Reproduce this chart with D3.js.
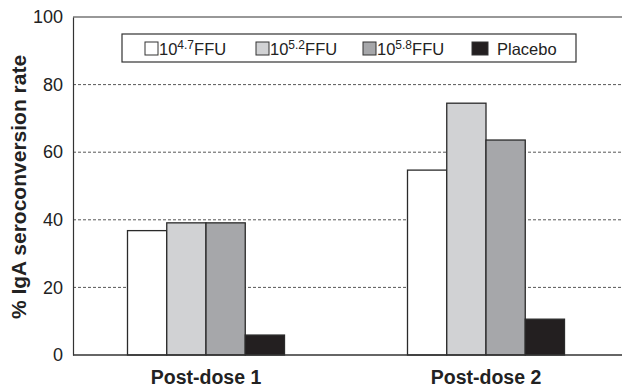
<!DOCTYPE html>
<html><head><meta charset="utf-8">
<script src="https://cdn.jsdelivr.net/npm/d3@7"></script>
<style>body{margin:0;background:#fff}svg{display:block;font-family:"Liberation Sans",Arial,sans-serif}</style>
</head><body><svg id="c" width="622" height="387"></svg>
<script>
const categories = ["Post-dose 1", "Post-dose 2"];
const seriesNames = ["10^4.7FFU", "10^5.2FFU", "10^5.8FFU", "Placebo"];
const seriesBase = ["10", "10", "10", "Placebo"];
const seriesSup = ["4.7", "5.2", "5.8", ""];
const seriesSuffix = ["FFU", "FFU", "FFU", ""];
const dose47 = [36.8, 54.7];
const dose52 = [39.1, 74.5];
const dose58 = [39.1, 63.6];
const placebo = [5.9, 10.6];
const yTicks = [0, 20, 40, 60, 80, 100];
const colors = ["#ffffff", "#d1d2d4", "#a6a7aa", "#231f20"];
const values = [dose47, dose52, dose58, placebo];

(function () {
const svg = d3.select("#c");
const pLeft = 73, pRight = 640, pTop = 17, pBottom = 355;
const y = d3.scaleLinear().domain([0, 100]).range([pBottom, pTop]);
const x = d3.scaleBand().domain(categories).range([66, 626]).paddingInner(0).paddingOuter(0);
const groupW = 157;
const xs = d3.scaleBand().domain(seriesNames).range([0, groupW]);

// gridlines
svg.append("g").selectAll("line").data(yTicks.filter(d => d > 0 && d < 100)).join("line")
  .attr("x1", pLeft).attr("x2", pRight).attr("y1", d => y(d)).attr("y2", d => y(d))
  .attr("stroke", "#444").attr("stroke-width", 0.9).attr("stroke-dasharray", "3,2");

// frame top
svg.append("line").attr("x1", pLeft).attr("x2", pRight).attr("y1", y(100)).attr("y2", y(100))
  .attr("stroke", "#333").attr("stroke-width", 1.2);

// bars
categories.forEach((c, ci) => {
  const x0 = x(c) + x.bandwidth() / 2 - groupW / 2;
  svg.append("g").selectAll("rect").data(seriesNames).join("rect")
    .attr("x", s => x0 + xs(s))
    .attr("width", xs.bandwidth())
    .attr("y", (s, i) => y(values[i][ci]))
    .attr("height", (s, i) => y(0) - y(values[i][ci]))
    .attr("fill", (s, i) => colors[i])
    .attr("stroke", "#2a2a2a").attr("stroke-width", 1.3);
});

// y axis
const yAxis = d3.axisLeft(y).tickValues(yTicks).tickSize(0).tickPadding(10);
const gy = svg.append("g").attr("transform", `translate(${pLeft},0)`).call(yAxis);
gy.select(".domain").attr("stroke", "#333").attr("stroke-width", 1.2);
gy.selectAll("text").attr("font-size", 18).attr("fill", "#222")
  .attr("font-family", "'Liberation Sans',Arial,sans-serif");

// x axis
const xAxis = d3.axisBottom(x).tickSize(0).tickPadding(14);
const gx = svg.append("g").attr("transform", `translate(0,${pBottom})`).call(xAxis);
gx.select(".domain").remove();
svg.append("line").attr("x1", pLeft).attr("x2", pRight).attr("y1", pBottom).attr("y2", pBottom)
  .attr("stroke", "#333").attr("stroke-width", 1.3);
gx.selectAll("text").attr("font-size", 19.5).attr("font-weight", "bold").attr("fill", "#222")
  .attr("font-family", "'Liberation Sans',Arial,sans-serif")
  .attr("dy", null).attr("y", 29);

// y label
svg.append("text").attr("transform", "translate(26,187) rotate(-90)")
  .attr("text-anchor", "middle").attr("font-size", 21).attr("font-weight", "bold").attr("fill", "#222")
  .text("% IgA seroconversion rate");

// legend
const lg = svg.append("g");
lg.append("rect").attr("x", 122).attr("y", 34).attr("width", 454).attr("height", 28)
  .attr("fill", "#fff").attr("stroke", "#333").attr("stroke-width", 1.2);
const legX = [145, 256, 363, 472];
seriesNames.forEach((s, i) => {
  lg.append("rect").attr("x", legX[i]).attr("y", 42).attr("width", i === 3 ? 16 : 13).attr("height", 13)
    .attr("fill", colors[i]).attr("stroke", "#333").attr("stroke-width", 1);
  const t = lg.append("text").attr("x", legX[i] + (i === 3 ? 25 : 14)).attr("y", 55)
    .attr("font-size", 16.5).attr("fill", "#222");
  t.append("tspan").text(seriesBase[i]);
  if (seriesSup[i]) {
    t.append("tspan").attr("dy", -6).attr("font-size", 12).text(seriesSup[i]);
    t.append("tspan").attr("dy", 6).text(seriesSuffix[i]);
  }
});
})();
</script></body></html>
